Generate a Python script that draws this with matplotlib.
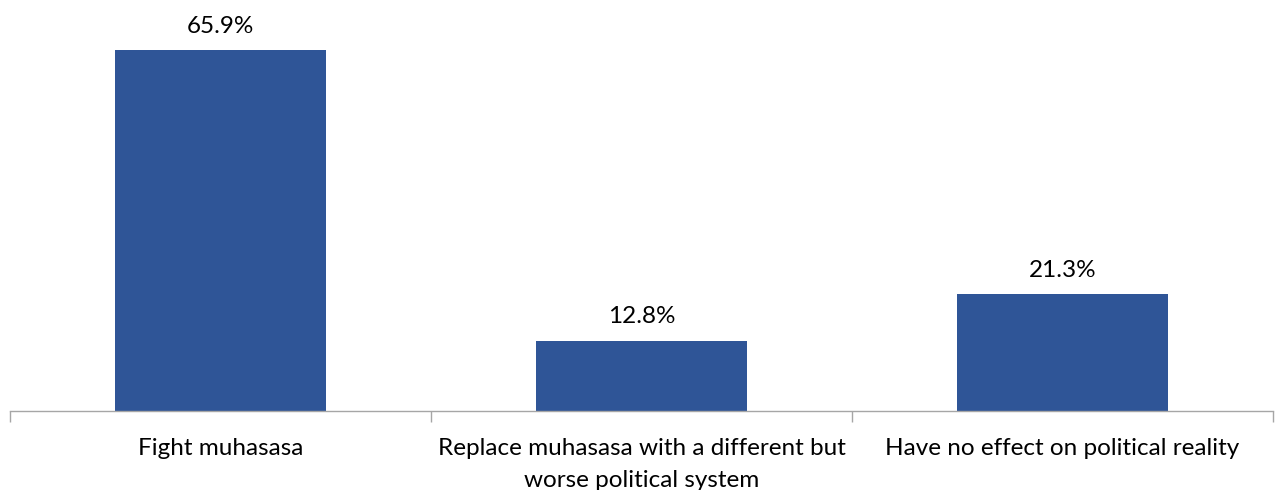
import matplotlib
matplotlib.use("Agg")
import matplotlib.pyplot as plt
import numpy as np

categories = ["Fight muhasasa",
              "Replace muhasasa with a different but\nworse political system",
              "Have no effect on political reality"]
values = [65.9, 12.8, 21.3]
labels = ["65.9%", "12.8%", "21.3%"]

plt.rcParams['font.family'] = ['Lato', 'DejaVu Sans']

fig = plt.figure(figsize=(12.76, 4.9), dpi=100)
ax = fig.add_axes([10/1276, 1-411/490, 1263/1276, 383/490])

x = np.arange(len(categories))
bars = ax.bar(x, values, width=0.5, color="#2F5597", zorder=2)
for xi, v, lab in zip(x, values, labels):
    ax.annotate(lab, (xi, v), xytext=(0, 10), textcoords="offset points",
                ha="center", va="bottom", fontsize=17.5, color="black")

ax.set_xlim(-0.5, len(categories) - 0.5)
ax.set_ylim(0, 70)
ax.set_xticks(x)
ax.set_xticklabels(categories, fontsize=17.5, color="black", linespacing=1.65)
ax.tick_params(axis="x", which="major", length=0, pad=19.5)
ax.set_xticks(np.arange(-0.5, len(categories)), minor=True)
ax.tick_params(axis="x", which="minor", length=8, width=1, color="#A6A6A6", direction="out")
ax.set_yticks([])
for s in ["top", "right", "left"]:
    ax.spines[s].set_visible(False)
ax.spines["bottom"].set_color("#A6A6A6")
ax.spines["bottom"].set_linewidth(1)

fig.savefig("out.png", dpi=100)
